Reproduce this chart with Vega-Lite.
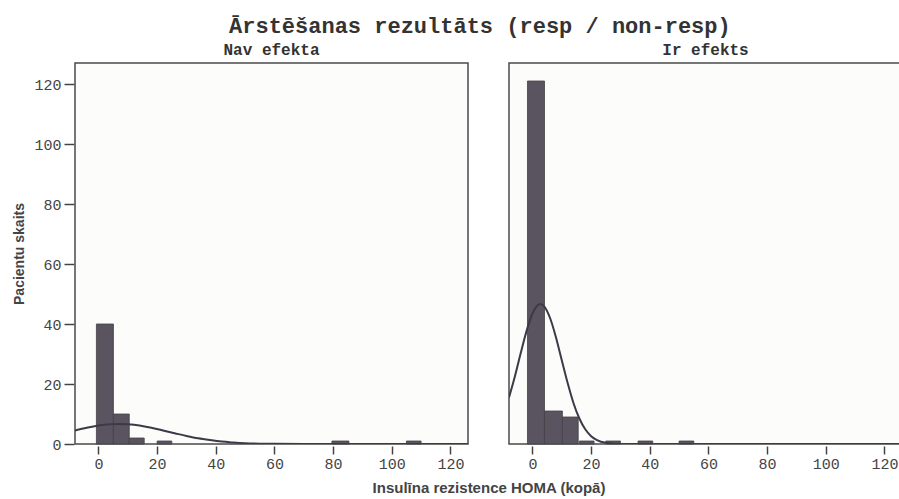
{
  "$schema": "https://vega.github.io/schema/vega-lite/v6.json",
  "background": "white",
  "padding": {"left": 12, "top": 15, "right": 1, "bottom": 0},
  "title": {"text": "Ārstēšanas rezultāts (resp / non-resp)", "font": "Liberation Mono", "fontSize": 22, "fontWeight": "bold", "anchor": "middle", "color": "#333333", "offset": 4, "dx": 22},
  "data": {"values": [
    {"grupa": "Nav efekta", "x0": -0.7, "x1": 5.1, "skaits": 40},
    {"grupa": "Nav efekta", "x0": 5.1, "x1": 10.5, "skaits": 10},
    {"grupa": "Nav efekta", "x0": 10.5, "x1": 15.6, "skaits": 2},
    {"grupa": "Nav efekta", "x0": 20, "x1": 25, "skaits": 1},
    {"grupa": "Nav efekta", "x0": 79.6, "x1": 85.4, "skaits": 1},
    {"grupa": "Nav efekta", "x0": 105, "x1": 110, "skaits": 1},
    {"grupa": "Ir efekts", "x0": -1.7, "x1": 4.1, "skaits": 121},
    {"grupa": "Ir efekts", "x0": 4.1, "x1": 10.2, "skaits": 11},
    {"grupa": "Ir efekts", "x0": 10.2, "x1": 15.6, "skaits": 9},
    {"grupa": "Ir efekts", "x0": 16, "x1": 21, "skaits": 1},
    {"grupa": "Ir efekts", "x0": 25, "x1": 30, "skaits": 1},
    {"grupa": "Ir efekts", "x0": 36, "x1": 41, "skaits": 1},
    {"grupa": "Ir efekts", "x0": 50, "x1": 55, "skaits": 1},
    {"grupa": "Nav efekta", "lx": -8, "ly": 4.5},
    {"grupa": "Nav efekta", "lx": -4, "ly": 5.4},
    {"grupa": "Nav efekta", "lx": 0, "ly": 6.2},
    {"grupa": "Nav efekta", "lx": 4, "ly": 6.6},
    {"grupa": "Nav efekta", "lx": 7, "ly": 6.7},
    {"grupa": "Nav efekta", "lx": 10, "ly": 6.6},
    {"grupa": "Nav efekta", "lx": 14, "ly": 6.2},
    {"grupa": "Nav efekta", "lx": 18, "ly": 5.4},
    {"grupa": "Nav efekta", "lx": 22, "ly": 4.5},
    {"grupa": "Nav efekta", "lx": 26, "ly": 3.6},
    {"grupa": "Nav efekta", "lx": 30, "ly": 2.7},
    {"grupa": "Nav efekta", "lx": 34, "ly": 1.9},
    {"grupa": "Nav efekta", "lx": 38, "ly": 1.3},
    {"grupa": "Nav efekta", "lx": 42, "ly": 0.8},
    {"grupa": "Nav efekta", "lx": 46, "ly": 0.5},
    {"grupa": "Nav efekta", "lx": 50, "ly": 0.27},
    {"grupa": "Nav efekta", "lx": 55, "ly": 0.12},
    {"grupa": "Nav efekta", "lx": 60, "ly": 0.05},
    {"grupa": "Nav efekta", "lx": 70, "ly": 0},
    {"grupa": "Nav efekta", "lx": 126, "ly": 0},
    {"grupa": "Ir efekts", "lx": -8, "ly": 15.5},
    {"grupa": "Ir efekts", "lx": -6, "ly": 22.5},
    {"grupa": "Ir efekts", "lx": -4, "ly": 30.3},
    {"grupa": "Ir efekts", "lx": -2, "ly": 37.7},
    {"grupa": "Ir efekts", "lx": 0, "ly": 43.5},
    {"grupa": "Ir efekts", "lx": 2.7, "ly": 46.7},
    {"grupa": "Ir efekts", "lx": 4, "ly": 45.9},
    {"grupa": "Ir efekts", "lx": 6, "ly": 42.0},
    {"grupa": "Ir efekts", "lx": 8, "ly": 35.6},
    {"grupa": "Ir efekts", "lx": 10, "ly": 27.9},
    {"grupa": "Ir efekts", "lx": 12, "ly": 20.3},
    {"grupa": "Ir efekts", "lx": 14, "ly": 13.6},
    {"grupa": "Ir efekts", "lx": 16, "ly": 8.5},
    {"grupa": "Ir efekts", "lx": 18, "ly": 4.9},
    {"grupa": "Ir efekts", "lx": 20, "ly": 2.6},
    {"grupa": "Ir efekts", "lx": 22, "ly": 1.3},
    {"grupa": "Ir efekts", "lx": 25, "ly": 0.4},
    {"grupa": "Ir efekts", "lx": 30, "ly": 0},
    {"grupa": "Ir efekts", "lx": 126, "ly": 0}
  ]},
  "facet": {
    "column": {
      "field": "grupa", "type": "nominal", "sort": ["Nav efekta", "Ir efekts"],
      "header": {
        "title": "Insulīna rezistence HOMA (kopā)", "titleOrient": "bottom", "labelOrient": "top",
        "labelFont": "Liberation Mono", "labelFontWeight": "bold", "labelFontSize": 16, "labelColor": "#333333", "labelPadding": 4,
        "titleFont": "Liberation Sans", "titleFontSize": 15, "titleFontWeight": "bold", "titleColor": "#444444", "titlePadding": 0
      }
    }
  },
  "spacing": 39,
  "spec": {
    "width": 393,
    "height": 381,
    "layer": [
      {
        "transform": [{"filter": "datum.skaits != null"}],
        "mark": {"type": "rect", "color": "#5a5460", "stroke": "#444044", "strokeWidth": 0.8},
        "encoding": {
          "x": {"field": "x0", "type": "quantitative", "scale": {"domain": [-8, 126], "nice": false, "zero": false},
                "axis": {"values": [0, 20, 40, 60, 80, 100, 120], "title": null}},
          "x2": {"field": "x1"},
          "y": {"field": "skaits", "type": "quantitative", "scale": {"domain": [0, 127], "nice": false},
                "axis": {"values": [0, 20, 40, 60, 80, 100, 120], "title": "Pacientu skaits", "titleFontSize": 14, "titlePadding": 7, "tickSize": 10, "labelPadding": 3}},
          "y2": {"datum": 0}
        }
      },
      {
        "transform": [{"filter": "datum.lx != null"}],
        "mark": {"type": "line", "color": "#3c3a48", "strokeWidth": 2, "clip": true, "interpolate": "monotone"},
        "encoding": {
          "x": {"field": "lx", "type": "quantitative"},
          "y": {"field": "ly", "type": "quantitative"}
        }
      }
    ]
  },
  "resolve": {"scale": {"x": "shared", "y": "shared"}},
  "config": {
    "view": {"stroke": "#4a4a4a", "strokeWidth": 1.5, "fill": "#fcfcfa"},
    "axis": {
      "grid": false, "domain": false, "tickColor": "#444444", "tickSize": 8, "tickWidth": 1.5,
      "labelFont": "Liberation Mono", "labelFontSize": 15, "labelColor": "#444444", "labelPadding": 2,
      "titleFont": "Liberation Sans", "titleFontSize": 15, "titleFontWeight": "bold", "titleColor": "#444444"
    }
  }
}
